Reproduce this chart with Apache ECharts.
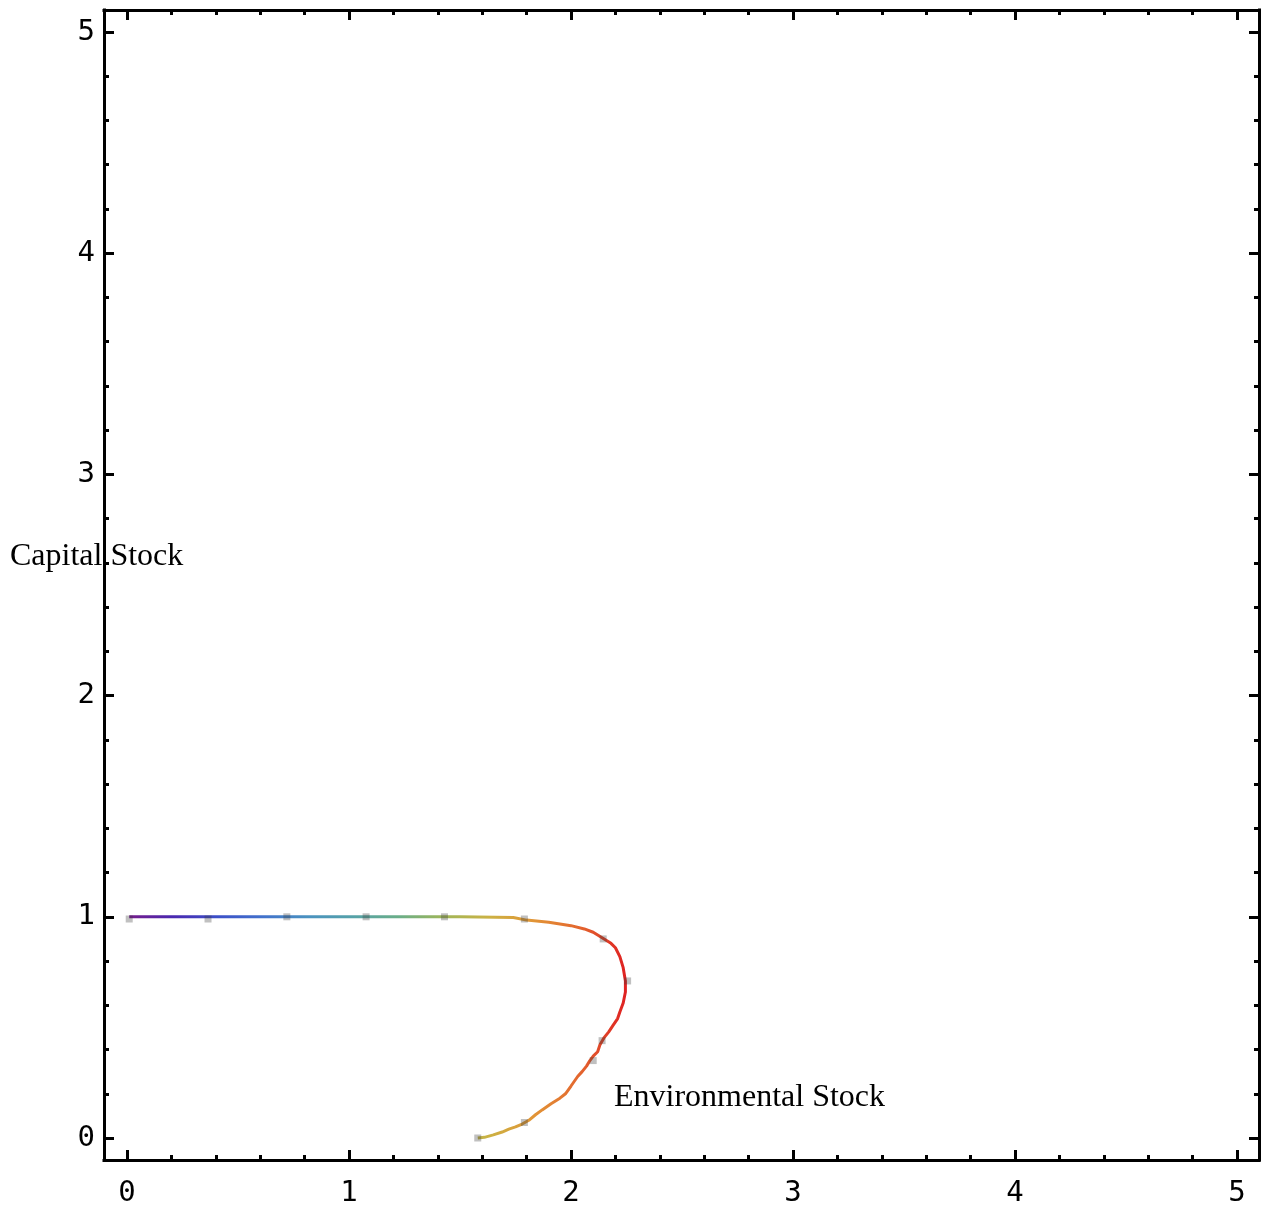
<!DOCTYPE html>
<html>
<head>
<meta charset="utf-8">
<title>Capital Stock vs Environmental Stock</title>
<script src="https://cdn.jsdelivr.net/npm/echarts@6/dist/echarts.min.js"></script>
<style>
  html, body { margin: 0; padding: 0; background: #fff; }
  #chart { width: 1270px; height: 1219px; }
</style>
</head>
<body>
<div id="chart"></div>
<script>
// Trajectory: [environmental stock, capital stock]
const trajectory = [
  [0.01, 1.0], [0.5, 1.0], [1.0, 1.0], [1.5, 1.0], [1.74, 0.997],
  [1.8, 0.985], [1.9, 0.975], [2.0, 0.96], [2.06, 0.945], [2.10, 0.93],
  [2.14, 0.905], [2.18, 0.88], [2.20, 0.86], [2.22, 0.82], [2.235, 0.77],
  [2.245, 0.71], [2.245, 0.66], [2.235, 0.61], [2.22, 0.57], [2.21, 0.54],
  [2.19, 0.51], [2.17, 0.48], [2.15, 0.455], [2.13, 0.42], [2.12, 0.39],
  [2.10, 0.37], [2.085, 0.35], [2.07, 0.325], [2.05, 0.30], [2.03, 0.278],
  [2.0, 0.235], [1.975, 0.2], [1.95, 0.18], [1.91, 0.155], [1.87, 0.127],
  [1.84, 0.105], [1.81, 0.08], [1.78, 0.063], [1.75, 0.05], [1.72, 0.04],
  [1.69, 0.027], [1.65, 0.014], [1.61, 0.003], [1.58, 0.0]
];

// Sample points marked along the trajectory
const samplePoints = [
  [0.01, 0.99], [0.365, 0.99], [0.72, 1.0], [1.077, 1.0], [1.43, 1.0],
  [1.79, 0.99], [2.145, 0.90], [2.255, 0.71], [2.14, 0.44], [2.10, 0.35],
  [1.79, 0.07], [1.58, 0.0]
];

const majorTicks = [0, 1, 2, 3, 4, 5];
const minorTicks = [0.2, 0.4, 0.6, 0.8, 1.2, 1.4, 1.6, 1.8, 2.2, 2.4, 2.6, 2.8,
                    3.2, 3.4, 3.6, 3.8, 4.2, 4.4, 4.6, 4.8];

// Rainbow palette, coloured by environmental stock
const rainbow = ['#781c8a', '#4a28b0', '#3c50c8', '#4272cc', '#4a92c0', '#56a2a8',
                 '#6aae88', '#a0b658', '#ccb244', '#e29436', '#e3652e', '#df2222'];

const xRange = { min: -0.1036, max: 5.099 };
const yRange = { min: -0.0995, max: 5.0995 };

const tickFont = { fontFamily: 'DejaVu Sans Mono', fontSize: 29, color: '#000' };

function makeAxis(range, position, ticks, tickLen, withLine, withLabels, labelMargin) {
  return {
    type: 'value',
    position: position,
    min: range.min,
    max: range.max,
    axisLine: {
      show: withLine,
      onZero: false,
      lineStyle: { color: '#000', width: 3, cap: 'square' }
    },
    splitLine: { show: false },
    axisTick: {
      show: true,
      inside: true,
      length: tickLen,
      customValues: ticks,
      lineStyle: { color: '#000', width: 3 }
    },
    axisLabel: withLabels
      ? Object.assign({ show: true, customValues: ticks, margin: labelMargin,
                        formatter: v => String(Math.round(v)) }, tickFont)
      : { show: false }
  };
}

const chart = echarts.init(document.getElementById('chart'), null, { renderer: 'canvas' });

chart.setOption({
  animation: false,
  backgroundColor: '#fff',
  grid: { left: 104, right: 11, top: 10, bottom: 59, containLabel: false },
  xAxis: [
    makeAxis(xRange, 'bottom', majorTicks, 10, true, true, 19),
    makeAxis(xRange, 'bottom', minorTicks, 5, false, false),
    makeAxis(xRange, 'top', majorTicks, 10, true, false),
    makeAxis(xRange, 'top', minorTicks, 5, false, false)
  ],
  yAxis: [
    makeAxis(yRange, 'left', majorTicks, 10, true, true, 9),
    makeAxis(yRange, 'left', minorTicks, 5, false, false),
    makeAxis(yRange, 'right', majorTicks, 10, true, false),
    makeAxis(yRange, 'right', minorTicks, 5, false, false)
  ],
  visualMap: {
    show: false,
    type: 'continuous',
    seriesIndex: 0,
    dimension: 0,
    min: 0,
    max: 2.245,
    inRange: { color: rainbow }
  },
  series: [
    {
      type: 'line',
      xAxisIndex: 0,
      yAxisIndex: 0,
      data: trajectory,
      showSymbol: false,
      smooth: false,
      lineStyle: { width: 3 },
      z: 2
    },
    {
      type: 'scatter',
      xAxisIndex: 0,
      yAxisIndex: 0,
      data: samplePoints,
      symbol: 'rect',
      symbolSize: 7,
      itemStyle: { color: 'rgba(60,60,60,0.4)' },
      z: 3
    }
  ],
  graphic: [
    {
      type: 'text',
      left: 10,
      top: 541,
      style: { text: 'Capital Stock', fontFamily: 'Liberation Serif', fontSize: 32, fill: '#000' },
      z: 10
    },
    {
      type: 'text',
      left: 614,
      top: 1082,
      style: { text: 'Environmental Stock', fontFamily: 'Liberation Serif', fontSize: 32, fill: '#000' },
      z: 10
    }
  ]
});
</script>
</body>
</html>
